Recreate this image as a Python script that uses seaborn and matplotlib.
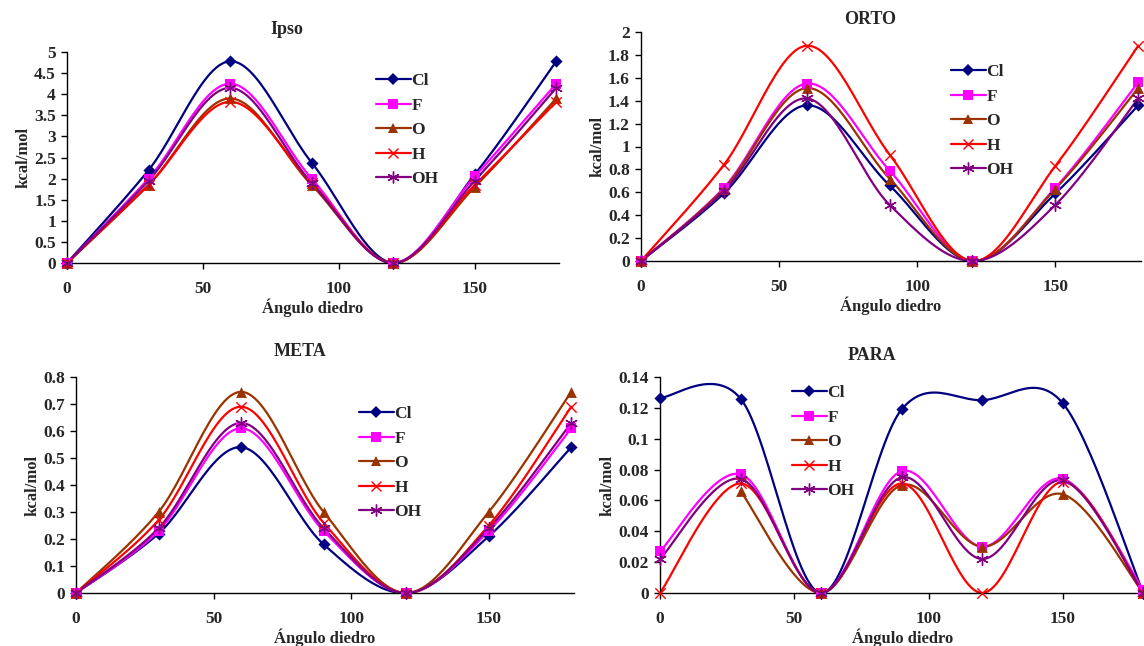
# -*- coding: utf-8 -*-
"""
Energia de rotação (kcal/mol) vs ângulo diedro
Quatro painéis: Ipso, ORTO, META, PARA
"""

import numpy as np
import pandas as pd
import matplotlib
matplotlib.use("Agg")
import matplotlib.pyplot as plt
from matplotlib.lines import Line2D
import seaborn as sns

# =========================
# DADOS
# =========================

angulos = [0, 30, 60, 90, 120, 150, 180]
series = ["Cl", "F", "O", "H", "OH"]

ipso_cl = [0, 2.2, 4.78, 2.38, 0, 2.1, 4.78]
ipso_f = [0, 2.0, 4.25, 2.0, 0, 2.05, 4.25]
ipso_o = [0, 1.85, 3.9, 1.85, 0, 1.8, 3.9]
ipso_h = [0, 1.85, 3.82, 1.9, 0, 1.85, 3.82]
ipso_oh = [0, 1.95, 4.15, 1.9, 0, 1.95, 4.15]

orto_cl = [0, 0.59, 1.36, 0.66, 0, 0.59, 1.36]
orto_f = [0, 0.64, 1.55, 0.79, 0, 0.64, 1.56]
orto_o = [0, 0.63, 1.51, 0.72, 0, 0.63, 1.51]
orto_h = [0, 0.84, 1.88, 0.93, 0, 0.83, 1.88]
orto_oh = [0, 0.61, 1.42, 0.49, 0, 0.49, 1.42]

meta_cl = [0, 0.22, 0.54, 0.18, 0, 0.21, 0.54]
meta_f = [0, 0.23, 0.61, 0.23, 0, 0.23, 0.61]
meta_o = [0, 0.30, 0.745, 0.30, 0, 0.30, 0.745]
meta_h = [0, 0.27, 0.69, 0.26, 0, 0.25, 0.69]
meta_oh = [0, 0.24, 0.63, 0.24, 0, 0.24, 0.63]

para_cl = [0.1265, 0.126, 0, 0.119, 0.125, 0.123, 0]
para_f = [0.027, 0.077, 0, 0.079, 0.030, 0.074, 0.002]
para_o = [np.nan, 0.066, 0, 0.070, 0.030, 0.064, 0]
para_h = [0, 0.071, 0, 0.071, 0, 0.072, 0]
para_oh = [0.022, 0.074, 0, 0.075, 0.022, 0.073, 0]

# =========================
# ESTILO
# =========================

sns.set_style("white")
plt.rcParams["font.family"] = ["Liberation Serif", "DejaVu Serif"]
plt.rcParams["font.weight"] = "bold"

cores = {"Cl": "#000080", "F": "#FF00FF", "O": "#993300", "H": "#FF0000", "OH": "#800080"}
marcadores = {"Cl": "D", "F": "s", "O": "^", "H": "x", "OH": (6, 2, 0)}
tamanhos = {"Cl": 6.2, "F": 7.2, "O": 7.8, "H": 7.5, "OH": 8.5}


def suavizar(x, y, n=30):
    # curva suave tipo Excel (Catmull-Rom em forma de Bezier)
    x = np.asarray(x, float)
    y = np.asarray(y, float)
    ok = ~np.isnan(y)
    x, y = x[ok], y[ok]
    px = np.r_[x[0], x, x[-1]]
    py = np.r_[y[0], y, y[-1]]
    xs, ys = [], []
    t = np.linspace(0, 1, n)
    for i in range(1, len(px) - 2):
        p0 = np.array([px[i], py[i]])
        p3 = np.array([px[i + 1], py[i + 1]])
        c1 = p0 + (p3 - np.array([px[i - 1], py[i - 1]])) / 6
        c2 = p3 - (np.array([px[i + 2], py[i + 2]]) - p0) / 6
        b = ((1 - t) ** 3)[:, None] * p0 + (3 * (1 - t) ** 2 * t)[:, None] * c1 \
            + (3 * (1 - t) * t ** 2)[:, None] * c2 + (t ** 3)[:, None] * p3
        xs.append(b[:, 0])
        ys.append(b[:, 1])
    return np.concatenate(xs), np.concatenate(ys)


# =========================
# FIGURA
# =========================

W, H = 1144, 646
fig = plt.figure(figsize=(W / 100, H / 100), dpi=100)


def eixo(esq, dir, topo, base):
    return fig.add_axes([esq / W, 1 - base / H, (dir - esq) / W, (base - topo) / H])


# titulo, valores, caixa do eixo (px), ymax, passo, legenda (px), titulo (px)
paineis = [
    ("Ipso", [ipso_cl, ipso_f, ipso_o, ipso_h, ipso_oh], (67, 559, 52, 263), 5, 0.5, (376, 73), (287, 30)),
    ("ORTO", [orto_cl, orto_f, orto_o, orto_h, orto_oh], (641, 1141, 32, 261), 2, 0.2, (951, 64), (870, 20)),
    ("META", [meta_cl, meta_f, meta_o, meta_h, meta_oh], (76, 574, 377, 593), 0.8, 0.1, (359, 406), (300, 352)),
    ("PARA", [para_cl, para_f, para_o, para_h, para_oh], (660, 1146, 377, 593), 0.14, 0.02, (792, 385), (872, 355)),
]

for titulo, valores, (esq, dir, topo, base), ymax, passo, leg_pos, tit_pos in paineis:
    ax = eixo(esq, dir, topo, base)

    for nome, y in zip(series, valores):
        xs, ys = suavizar(angulos, y)
        ax.plot(xs, ys, color=cores[nome], lw=1.6, zorder=2)
        df = pd.DataFrame({"angulo": angulos, "valor": y}).dropna()
        sns.scatterplot(data=df, x="angulo", y="valor", ax=ax, marker=marcadores[nome],
                        color=cores[nome], s=tamanhos[nome] ** 2, linewidth=1 if nome in ("H", "OH") else 0,
                        edgecolor=cores[nome], zorder=3, clip_on=False)

    ax.set_xlim(0, 181)
    ax.set_ylim(0, ymax)
    ax.set_xticks([0, 50, 100, 150])
    ticks = np.round(np.arange(0, ymax + passo / 2, passo), 3)
    ax.set_yticks(ticks)
    ax.set_yticklabels([f"{v:g}" for v in ticks])

    sns.despine(ax=ax)
    for s in ("left", "bottom"):
        ax.spines[s].set_color("black")
        ax.spines[s].set_linewidth(1.0)
    ax.tick_params(axis="both", direction="out", length=4, width=1, color="black",
                   labelsize=12.5, pad=4, bottom=True, left=True)
    ax.tick_params(axis="x", pad=9)
    for lab in ax.get_xticklabels() + ax.get_yticklabels():
        lab.set_fontweight("bold")

    fig.text(tit_pos[0] / W, 1 - tit_pos[1] / H, titulo, fontsize=13, fontweight="bold",
             ha="center", va="center")
    ax.set_xlabel("Ángulo diedro", fontsize=12, fontweight="bold", labelpad=1)
    ax.set_ylabel("kcal/mol", fontsize=12, fontweight="bold", labelpad=2)

    handles = [Line2D([], [], color=cores[n], lw=1.6, marker=marcadores[n],
                      markersize=tamanhos[n], markeredgewidth=1 if n in ("H", "OH") else 0)
               for n in series]
    ax.legend(handles, series, loc="upper left", frameon=False,
              bbox_to_anchor=(leg_pos[0] / W, 1 - leg_pos[1] / H),
              bbox_transform=fig.transFigure, handlelength=2.0, handletextpad=0.05,
              labelspacing=0.48, borderpad=0, borderaxespad=0,
              prop={"size": 12.5, "weight": "bold"})

fig.savefig("out.png", dpi=100)
